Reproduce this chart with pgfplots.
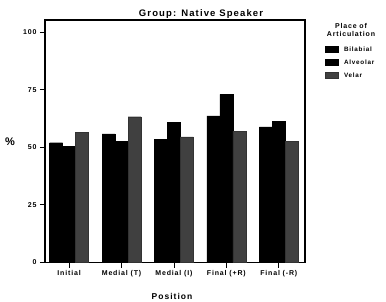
\documentclass[border=0pt]{standalone}
\usepackage{pgfplots}
\pgfplotsset{compat=1.18}
\usepackage{fontspec}
\setmainfont{Liberation Sans}
\newfontfamily\spfont[LetterSpace=12]{Liberation Sans}
\begin{document}
\begin{tikzpicture}[x=1pt,y=1pt]
\useasboundingbox (0,0) rectangle (386,301);
\begin{axis}[
  at={(45pt,38.5pt)}, anchor=south west,
  scale only axis, width=260pt, height=242.5pt,
  xmin=-0.46, xmax=4.5, ymin=0, ymax=105.3,
  axis line style={line width=1.1pt},
  ytick={0,25,50,75,100},
  xtick={0,1,2,3,4},
  xticklabels={Initial,Medial (T),Medial (I),Final (+R),Final (-R)},
  tick align=outside, tick style={black, line width=0.9pt},
  major tick length=5pt,
  ytick pos=left, xtick pos=bottom,
  /pgf/number format/assume math mode=true,
  tick label style={font=\spfont\bfseries\fontsize{7}{8}\selectfont},
  xticklabel style={yshift=1pt},
  ybar, bar width=13pt,
  legend cell align=left,
  legend style={at={(rel axis cs:1.075,0.90)}, anchor=north west, draw=none,
    font=\spfont\bfseries\fontsize{6.3}{7}\selectfont, row sep=3pt, inner sep=0pt,
    /tikz/every odd column/.append style={column sep=4pt}},
  legend image code/.code={\fill[#1] (0pt,-3pt) rectangle (13pt,3.5pt);},
]
\addplot[fill=black, draw=black, bar shift=-13pt] coordinates {(0,52.0) (1,55.8) (2,53.6) (3,63.7) (4,58.9)};
\addplot[fill=black, draw=black, bar shift=0pt] coordinates {(0,50.3) (1,52.7) (2,60.9) (3,73.0) (4,61.4)};
\addplot[fill=black!75, draw=black!80, bar shift=13pt] coordinates {(0,56.5) (1,63.3) (2,54.6) (3,57.1) (4,52.6)};
\legend{Bilabial,Alveolar,Velar}
\end{axis}
\node[font=\spfont\bfseries\fontsize{9.5}{10}\selectfont] at (201,287) {Group: Native Speaker};
\node[font=\bfseries\fontsize{11}{11}\selectfont] at (10,159) {\%};
\node[font=\spfont\bfseries\fontsize{8.5}{9}\selectfont] at (172,5) {Position};
\node[font=\spfont\bfseries\fontsize{7}{8}\selectfont, align=center] at (351,271) {Place of\\Articulation};
\end{tikzpicture}
\end{document}
